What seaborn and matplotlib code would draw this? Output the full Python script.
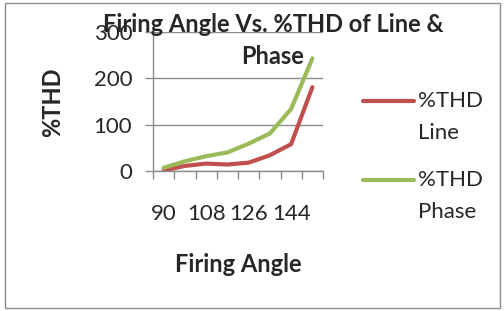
import pandas as pd
import matplotlib
matplotlib.use("Agg")
import matplotlib.pyplot as plt
import seaborn as sns
from matplotlib.lines import Line2D
from matplotlib.patches import Rectangle

# dados
angulos = [90, 99, 108, 117, 126, 135, 144, 153]
thd_linha = [1, 11, 16, 14, 18, 34, 58, 181]
thd_fase = [7, 21, 32, 40, 59, 81, 134, 243]
series = ["%THD Line", "%THD Phase"]
cores = ["#C0504D", "#9BBB59"]

df = pd.DataFrame({
    "pos": list(range(len(angulos))) * 2,
    "valor": thd_linha + thd_fase,
    "serie": [series[0]] * len(angulos) + [series[1]] * len(angulos),
})

sns.set_style("white")
plt.rcParams["font.family"] = ["Lato", "DejaVu Sans"]

fig = plt.figure(figsize=(5.04, 3.11), dpi=100)
ax = fig.add_axes([153 / 504, 1 - 171 / 311, 170 / 504, 139 / 311])

sns.lineplot(data=df, x="pos", y="valor", hue="serie", palette=cores,
             linewidth=3, legend=False, ax=ax)

ax.set_xlim(-0.5, len(angulos) - 0.5)
ax.set_ylim(0, 300)
ax.set_yticks([0, 100, 200, 300])
ax.yaxis.grid(True, color="#8c8c8c", linewidth=1)
ax.set_axisbelow(True)

# eixo de categorias: marcas nas fronteiras, rótulos alternados
ax.set_xticks([i - 0.5 for i in range(len(angulos) + 1)], minor=True)
ax.set_xticks(range(0, len(angulos), 2))
ax.set_xticklabels([str(a) for a in angulos[::2]])
ax.tick_params(axis="x", which="major", length=0, pad=24, labelsize=16)
ax.tick_params(axis="x", which="minor", length=6, width=1, color="#8c8c8c",
               direction="out", bottom=True)
ax.tick_params(axis="y", length=6, width=1, color="#8c8c8c", direction="out",
               left=True, pad=9, labelsize=16)

for lado in ["top", "right"]:
    ax.spines[lado].set_visible(False)
for lado in ["left", "bottom"]:
    ax.spines[lado].set_color("#8c8c8c")
    ax.spines[lado].set_linewidth(1)

ax.set_xlabel("")
ax.set_ylabel("")

# títulos
fig.text(273 / 504, 1 - 24 / 311, "Firing Angle Vs. %THD of Line &",
         ha="center", va="center", fontsize=17, fontweight="bold")
fig.text(273 / 504, 1 - 56 / 311, "Phase",
         ha="center", va="center", fontsize=17, fontweight="bold")
fig.text(238 / 504, 1 - 265 / 311, "Firing Angle",
         ha="center", va="center", fontsize=17, fontweight="bold")
fig.text(53 / 504, 1 - 102 / 311, "%THD", rotation=90,
         ha="center", va="center", fontsize=17, fontweight="bold")

# legenda manual
for i, (nome, cor) in enumerate(zip(["Line", "Phase"], cores)):
    y = 1 - (101 + 79 * i) / 311
    fig.add_artist(Line2D([363 / 504, 414 / 504], [y, y], color=cor,
                          linewidth=3, solid_capstyle="round"))
    fig.text(418 / 504, y, "%THD", ha="left", va="center", fontsize=16)
    fig.text(418 / 504, y - 32 / 311, nome, ha="left", va="center", fontsize=16)

# moldura do gráfico
fig.add_artist(Rectangle((5 / 504, 3 / 311), 495 / 504, 305 / 311,
                         fill=False, edgecolor="#8c8c8c", linewidth=1))

plt.savefig("out.png", dpi=100)
